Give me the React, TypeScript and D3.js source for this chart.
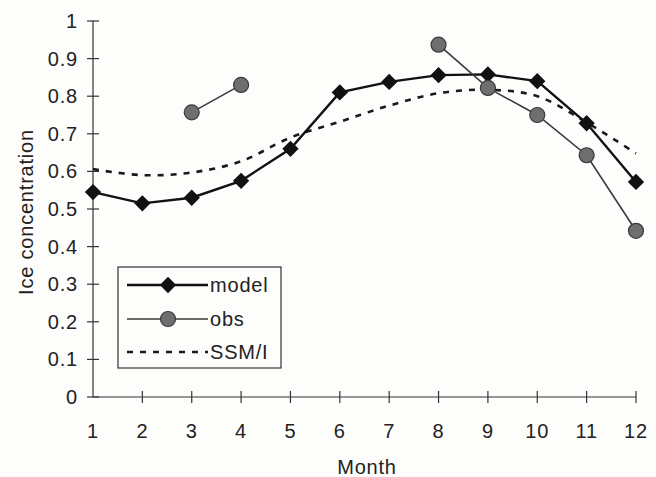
import { useEffect, useRef } from 'react';
import * as d3 from 'd3';

const MONTHS = [1, 2, 3, 4, 5, 6, 7, 8, 9, 10, 11, 12];
const MODEL = [0.545, 0.515, 0.53, 0.575, 0.66, 0.81, 0.838, 0.856, 0.858, 0.84, 0.728, 0.572];
const OBS = [null, null, 0.757, 0.83, null, null, null, 0.937, 0.822, 0.75, 0.643, 0.442];
const SSMI = [0.606, 0.59, 0.597, 0.627, 0.69, 0.732, 0.775, 0.808, 0.817, 0.8, 0.73, 0.648];
const Y_TICKS = [0, 0.1, 0.2, 0.3, 0.4, 0.5, 0.6, 0.7, 0.8, 0.9, 1];

const FONT = '"Liberation Sans", Arial, Helvetica, sans-serif';
const FS = 20;
const LS = 0.8;

export default function App() {
  const svgRef = useRef<SVGSVGElement>(null);
  const width = 656;
  const height = 477;

  useEffect(() => {
    document.body.style.margin = '0';
    document.body.style.overflow = 'hidden';

    const svg = d3.select(svgRef.current);
    svg.selectAll('*').remove();

    const x = d3.scaleLinear().domain([1, 12]).range([93, 636]);
    const y = d3.scaleLinear().domain([0, 1]).range([397, 21]);

    svg.append('rect').attr('width', width).attr('height', height).attr('fill', '#fdfdfb');

    const label = (sel: d3.Selection<any, any, any, any>) =>
      sel.attr('font-family', FONT)
        .attr('font-size', FS)
        .attr('letter-spacing', LS)
        .attr('fill', '#222');

    // axes
    const axisColor = '#333';
    svg.append('line')
      .attr('x1', x(1)).attr('x2', x(1)).attr('y1', y(1)).attr('y2', y(0))
      .attr('stroke', axisColor).attr('stroke-width', 1.2);
    svg.append('line')
      .attr('x1', x(1)).attr('x2', x(12)).attr('y1', y(0)).attr('y2', y(0))
      .attr('stroke', axisColor).attr('stroke-width', 1.2);

    svg.append('g').selectAll('line')
      .data(Y_TICKS)
      .join('line')
      .attr('x1', x(1) - 6).attr('x2', x(1) + 6)
      .attr('y1', d => y(d)).attr('y2', d => y(d))
      .attr('stroke', axisColor).attr('stroke-width', 1.2);

    svg.append('g').selectAll('text')
      .data(Y_TICKS)
      .join('text')
      .attr('x', 78)
      .attr('y', d => y(d))
      .attr('dy', '0.35em')
      .attr('text-anchor', 'end')
      .call(label)
      .text(d => (d === 0 || d === 1 ? String(d) : d.toFixed(1)));

    svg.append('g').selectAll('line')
      .data(MONTHS.slice(1))
      .join('line')
      .attr('x1', d => x(d)).attr('x2', d => x(d))
      .attr('y1', y(0) - 6).attr('y2', y(0) + 6)
      .attr('stroke', axisColor).attr('stroke-width', 1.2);

    svg.append('g').selectAll('text')
      .data(MONTHS)
      .join('text')
      .attr('x', d => x(d))
      .attr('y', 438)
      .attr('text-anchor', 'middle')
      .call(label)
      .text(d => d);

    svg.append('text')
      .attr('x', 367)
      .attr('y', 474)
      .attr('text-anchor', 'middle')
      .call(label)
      .text('Month');

    svg.append('text')
      .attr('transform', 'translate(33,212) rotate(-90)')
      .attr('text-anchor', 'middle')
      .call(label)
      .text('Ice concentration');

    // SSM/I dashed curve
    const ssmiLine = d3.line<number>()
      .x((_, i) => x(MONTHS[i]))
      .y(d => y(d))
      .curve(d3.curveCatmullRom);
    svg.append('path')
      .attr('d', ssmiLine(SSMI))
      .attr('fill', 'none')
      .attr('stroke', '#1a1a1a')
      .attr('stroke-width', 2.6)
      .attr('stroke-dasharray', '6,7');

    // model line
    const modelLine = d3.line<number>()
      .x((_, i) => x(MONTHS[i]))
      .y(d => y(d));
    svg.append('path')
      .attr('d', modelLine(MODEL))
      .attr('fill', 'none')
      .attr('stroke', '#111')
      .attr('stroke-width', 2.4);

    const diamond = d3.symbol().type(d3.symbolDiamond2).size(170);

    // obs line (gaps where no observation)
    const obsLine = d3.line<number | null>()
      .defined(d => d !== null)
      .x((_, i) => x(MONTHS[i]))
      .y(d => y(d as number));
    svg.append('path')
      .attr('d', obsLine(OBS))
      .attr('fill', 'none')
      .attr('stroke', '#3a3a3a')
      .attr('stroke-width', 1.6);

    svg.append('g').selectAll('path')
      .data(MODEL)
      .join('path')
      .attr('d', diamond)
      .attr('transform', (d, i) => `translate(${x(MONTHS[i])},${y(d)})`)
      .attr('fill', '#111');

    svg.append('g').selectAll('circle')
      .data(MONTHS.filter((_, i) => OBS[i] !== null))
      .join('circle')
      .attr('cx', m => x(m))
      .attr('cy', m => y(OBS[m - 1] as number))
      .attr('r', 7.5)
      .attr('fill', '#6f6f6f')
      .attr('stroke', '#3a3a3a')
      .attr('stroke-width', 1.2);

    // legend
    const lg = svg.append('g');
    lg.append('rect')
      .attr('x', 118).attr('y', 267).attr('width', 163).attr('height', 101)
      .attr('fill', '#fdfdfb').attr('stroke', '#333').attr('stroke-width', 1.2);

    const rows = ['model', 'obs', 'SSM/I'];
    const rowY = [285, 319, 352];
    rows.forEach((name, i) => {
      const ry = rowY[i];
      const line = lg.append('line')
        .attr('x1', 127).attr('x2', 208)
        .attr('y1', ry).attr('y2', ry);
      if (i === 0) {
        line.attr('stroke', '#111').attr('stroke-width', 2.4);
        lg.append('path').attr('d', diamond).attr('transform', `translate(168,${ry})`).attr('fill', '#111');
      } else if (i === 1) {
        line.attr('stroke', '#3a3a3a').attr('stroke-width', 1.6);
        lg.append('circle').attr('cx', 168).attr('cy', ry).attr('r', 7.5)
          .attr('fill', '#6f6f6f').attr('stroke', '#3a3a3a').attr('stroke-width', 1.2);
      } else {
        line.attr('stroke', '#1a1a1a').attr('stroke-width', 2.6).attr('stroke-dasharray', '6,7');
      }
      lg.append('text')
        .attr('x', 210).attr('y', ry)
        .attr('dy', '0.35em')
        .call(label)
        .text(name);
    });
  }, []);

  return (
    <svg ref={svgRef} width={width} height={height} style={{ display: 'block', position: 'absolute', left: 0, top: 0 }} />
  );
}
